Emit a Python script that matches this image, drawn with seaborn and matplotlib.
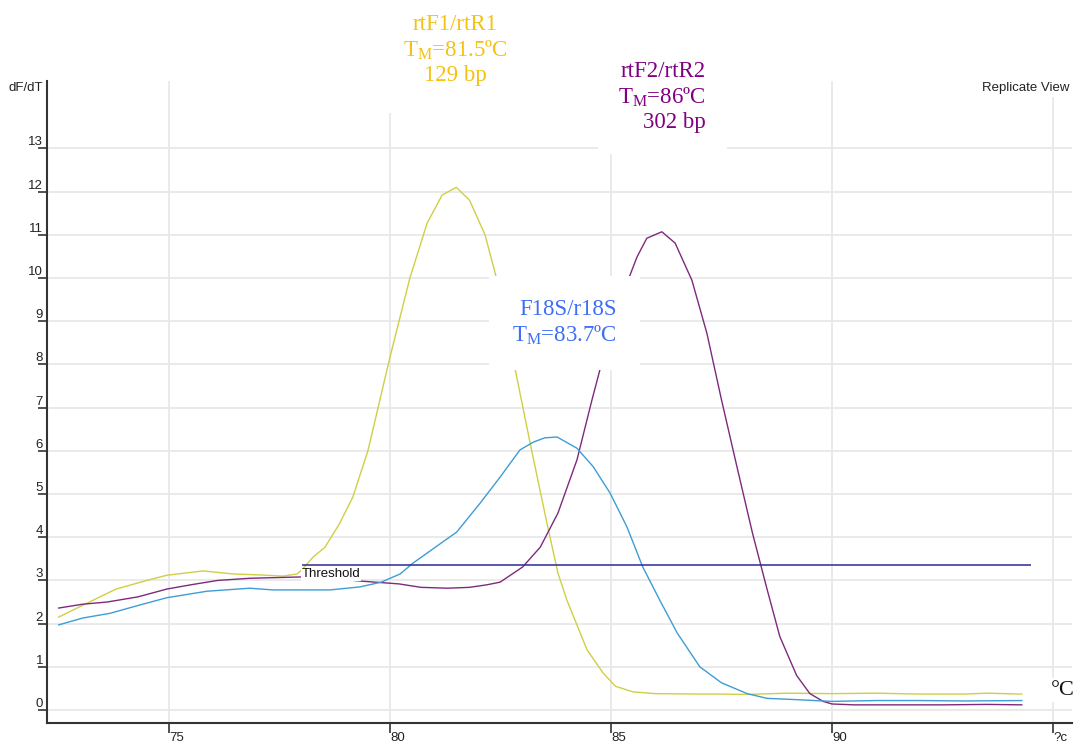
import matplotlib
matplotlib.use("Agg")
import matplotlib.pyplot as plt
import numpy as np
import pandas as pd
import seaborn as sns

# ---------------- data ----------------
temp_rtF1 = [72.5, 73.0, 73.8, 74.5, 74.95, 75.77, 76.45, 77.0, 77.58, 77.9, 78.0,
             78.26, 78.53, 78.85, 79.16, 79.5, 80.0, 80.45, 80.84, 81.18, 81.5,
             81.8, 82.15, 82.44, 82.78, 83.17, 83.55, 83.8, 84.0, 84.46, 84.82,
             85.1, 85.5, 86.0, 87.0, 87.5, 88.0, 89.0, 90.0, 91.0, 92.0, 93.0,
             93.5, 94.3]
dfdt_rtF1 = [2.15, 2.4, 2.8, 3.0, 3.12, 3.22, 3.15, 3.13, 3.10, 3.15, 3.24,
             3.54, 3.77, 4.3, 4.93, 6.0, 8.17, 10.0, 11.27, 11.92, 12.1,
             11.8, 11.0, 9.88, 8.15, 6.18, 4.33, 3.17, 2.55, 1.39, 0.86,
             0.55, 0.42, 0.38, 0.37, 0.37, 0.36, 0.39, 0.38, 0.39, 0.37, 0.37,
             0.39, 0.37]

temp_rtF2 = [72.5, 73.05, 73.6, 74.3, 74.95, 75.5, 76.1, 76.83, 77.96, 78.6,
             79.4, 80.2, 80.7, 81.3, 81.8, 82.2, 82.49, 83.0, 83.4, 83.8, 84.23,
             84.57, 84.82, 85.1, 85.36, 85.59, 85.81, 86.15, 86.45, 86.83, 87.17,
             87.5, 87.85, 88.2, 88.53, 88.82, 89.2, 89.5, 89.8, 90.0, 90.5, 91.5,
             92.5, 93.5, 94.3]
dfdt_rtF2 = [2.36, 2.45, 2.5, 2.62, 2.8, 2.9, 3.0, 3.05, 3.08, 3.05,
             2.98, 2.92, 2.84, 2.82, 2.84, 2.9, 2.96, 3.31, 3.77, 4.56, 5.79,
             7.18, 8.15, 9.1, 9.88, 10.49, 10.92, 11.07, 10.81, 9.95, 8.72,
             7.18, 5.63, 4.1, 2.8, 1.7, 0.8, 0.38, 0.2, 0.14, 0.12, 0.12,
             0.12, 0.13, 0.12]

temp_F18S = [72.5, 73.05, 73.67, 74.3, 74.95, 75.86, 76.83, 77.35, 78.64, 79.32,
             79.8, 80.23, 80.52, 81.0, 81.51, 82.04, 82.49, 82.94, 83.24, 83.5,
             83.78, 84.23, 84.6, 84.98, 85.36, 85.72, 86.1, 86.5, 87.01, 87.5,
             88.08, 88.53, 89.0, 90.0, 91.0, 92.0, 93.0, 94.3]
dfdt_F18S = [1.97, 2.13, 2.24, 2.42, 2.6, 2.75, 2.82, 2.78, 2.78, 2.85,
             2.96, 3.15, 3.4, 3.75, 4.12, 4.79, 5.39, 6.02, 6.2, 6.3,
             6.32, 6.06, 5.63, 5.02, 4.24, 3.31, 2.55, 1.78, 1.0, 0.63,
             0.38, 0.27, 0.25, 0.2, 0.22, 0.22, 0.21, 0.22]

series_names = ["rtF1/rtR1", "rtF2/rtR2", "F18S/r18S"]
series_colors = ["#cfcf45", "#7d2a7d", "#3d9dd4"]

threshold_value = 3.36
threshold_range = [78.0, 94.5]

x_ticks = [75, 80, 85, 90, 95]
x_tick_labels = ["75", "80", "85", "90", "?c"]
y_ticks = list(range(0, 14))
y_tick_labels = [str(v) for v in y_ticks]

label_rtF1 = "rtF1/rtR1\nT$_\\mathrm{M}$=81.5ºC\n129 bp"
label_rtF2 = "rtF2/rtR2\nT$_\\mathrm{M}$=86ºC\n302 bp"
label_F18S = "F18S/r18S\nT$_\\mathrm{M}$=83.7ºC"

# ---------------- build table ----------------
frames = []
for name, t, v in zip(series_names,
                      [temp_rtF1, temp_rtF2, temp_F18S],
                      [dfdt_rtF1, dfdt_rtF2, dfdt_F18S]):
    frames.append(pd.DataFrame({"T": t, "dFdT": v, "primer": name}))
df = pd.concat(frames, ignore_index=True)

# ---------------- style ----------------
sns.set_theme(style="white")
plt.rcParams["font.family"] = ["Liberation Sans", "DejaVu Sans"]
plt.rcParams["mathtext.fontset"] = "custom"
plt.rcParams["mathtext.rm"] = "Liberation Serif"
plt.rcParams["mathtext.it"] = "Liberation Serif:italic"
plt.rcParams["mathtext.bf"] = "Liberation Serif:bold"

W, H = 1081, 745
fig = plt.figure(figsize=(W / 100, H / 100), dpi=100)
ax = fig.add_axes([47 / W, 22 / H, (1072 - 47) / W, (723 - 81) / H])

sns.lineplot(data=df, x="T", y="dFdT", hue="primer", hue_order=series_names,
             palette=dict(zip(series_names, series_colors)), estimator=None,
             sort=False, legend=False, linewidth=1.0, ax=ax)

ax.hlines(threshold_value, threshold_range[0], threshold_range[1],
          color="#2b2b96", linewidth=1.1, zorder=2.5)
ax.text(threshold_range[0], threshold_value - 0.08, "Threshold", ha="left", va="top",
        fontsize=9.5, color="#111111", zorder=3,
        bbox=dict(facecolor="white", edgecolor="none", pad=0.5))

ax.set_xlim(72.24, 95.43)
ax.set_ylim(-0.30, 14.56)
ax.set_xlabel("")
ax.set_ylabel("")

ax.set_xticks(x_ticks)
ax.set_xticklabels(x_tick_labels)
ax.set_yticks(y_ticks)
ax.set_yticklabels(y_tick_labels)

ax.grid(True, color="#e8e8e8", linewidth=1.3)
ax.set_axisbelow(True)
for s in ["top", "right"]:
    ax.spines[s].set_visible(False)
for s in ["left", "bottom"]:
    ax.spines[s].set_visible(True)
    ax.spines[s].set_color("#333333")
    ax.spines[s].set_linewidth(1.5)

ax.tick_params(axis="x", direction="out", length=7.5, width=1.2, color="#333333",
               pad=-1, labelsize=9.5, labelcolor="#222222", bottom=True)
ax.tick_params(axis="y", direction="out", length=6.5, width=1.2, color="#333333",
               pad=-3.6, labelsize=9.5, labelcolor="#222222", left=True)
for lab in ax.get_xticklabels():
    lab.set_ha("left")
for lab in ax.get_yticklabels():
    lab.set_va("bottom")

# annotations
serif = ["Liberation Serif", "DejaVu Serif"]
box = dict(boxstyle="square,pad=0.9", facecolor="white", edgecolor="none")
ax.text(81.47, 15.28, label_rtF1, ha="center", va="center", multialignment="center",
        color="#f5c211", fontsize=16.5, family=serif, clip_on=False,
        bbox=dict(boxstyle="square,pad=1.2", facecolor="white", edgecolor="none"),
        zorder=4)
ax.text(87.15, 14.19, label_rtF2, ha="right", va="center", multialignment="right",
        color="#800080", fontsize=16.5, family=serif, clip_on=False, bbox=box, zorder=4)
ax.text(85.14, 8.96, label_F18S, ha="right", va="center", multialignment="right",
        color="#3d6ef5", fontsize=16.5, family=serif, clip_on=False,
        bbox=dict(boxstyle="square,pad=1.0", facecolor="white", edgecolor="none"),
        zorder=4)
ax.text(95.22, 0.46, "°C", ha="center", va="center", color="#111111", fontsize=16,
        family=serif, clip_on=False, zorder=4,
        bbox=dict(facecolor="white", edgecolor="none", pad=2))

fig.text(43 / W, 1 - 88 / H, "dF/dT", ha="right", va="center", fontsize=9.5,
         color="#222222")
fig.text(1070 / W, 1 - 88 / H, "Replicate View", ha="right", va="center", fontsize=9.5,
         color="#222222", bbox=dict(facecolor="white", edgecolor="none", pad=2))

fig.savefig("out.png", dpi=100)
